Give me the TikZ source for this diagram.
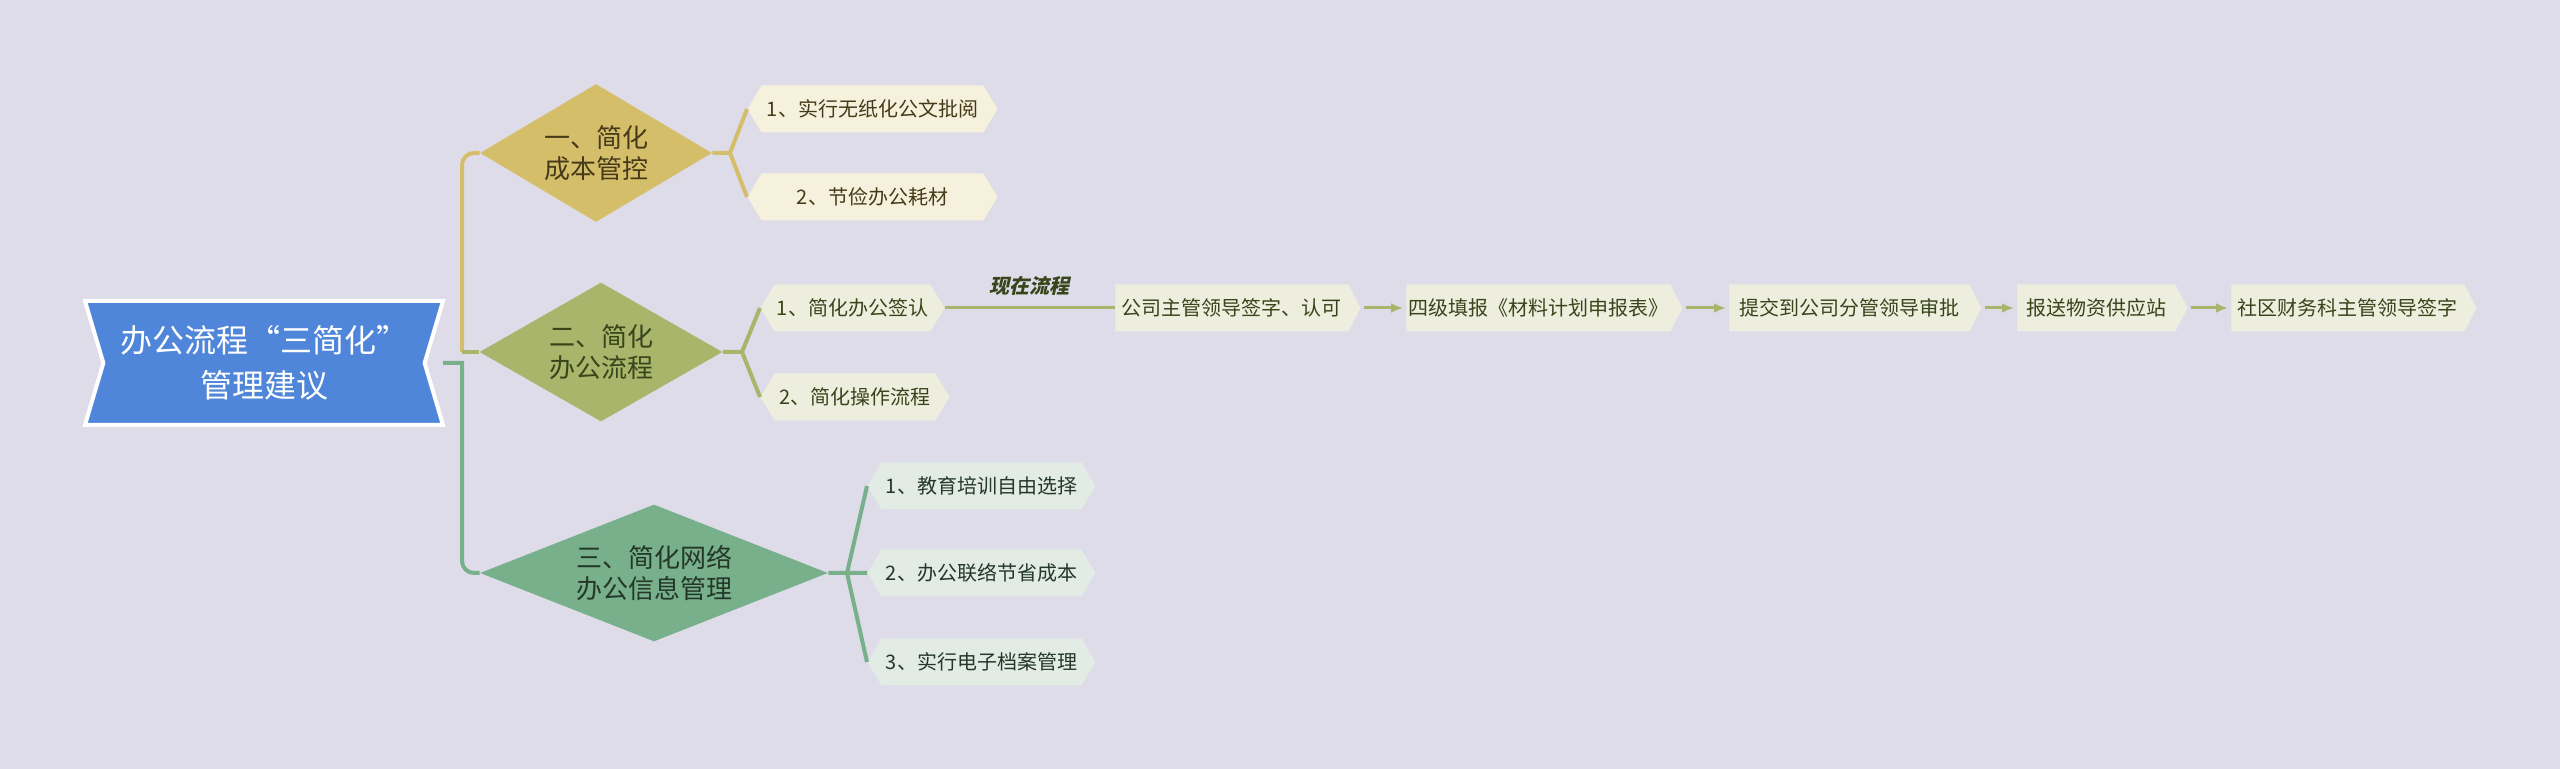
\documentclass[tikz,border=0pt]{standalone}
\usepackage{fontspec}
\newfontfamily\cjk{Noto Sans CJK SC}
\newfontfamily\cjkslant{Noto Sans CJK SC}[FakeSlant=0.22]
\usetikzlibrary{calc,arrows.meta,shapes.geometric,shapes.symbols}

\definecolor{bgcol}{RGB}{223,220,234}
\definecolor{rootcol}{RGB}{79,134,217}
\definecolor{gold}{RGB}{212,190,106}
\definecolor{olive}{RGB}{169,181,107}
\definecolor{sage}{RGB}{119,176,138}
\definecolor{goldleaf}{RGB}{245,241,221}
\definecolor{oliveleaf}{RGB}{238,238,222}
\definecolor{sageleaf}{RGB}{226,235,228}
\definecolor{goldtext}{RGB}{70,58,24}
\definecolor{olivetext}{RGB}{56,68,26}
\definecolor{sagetext}{RGB}{36,56,42}

\tikzset{
  topic/.style={diamond,aspect=2,inner sep=0pt,align=center,
    font=\cjk\fontsize{13}{15.5}\selectfont},
  leaf/.style={signal,signal to=east and west,signal pointer angle=118,
    anchor=west,minimum height=23.5pt,inner sep=0pt,
    font=\cjk\fontsize{10}{12}\selectfont},
  stepbox/.style={signal,signal to=east,signal from=nowhere,signal pointer angle=126,
    anchor=west,minimum height=23.5pt,inner sep=0pt,fill=oliveleaf,text=olivetext,
    font=\cjk\fontsize{10}{12}\selectfont},
  link/.style={line width=2pt},
  flowline/.style={line width=1.5pt,olive,->,shorten <=1.5pt,shorten >=1.5pt}
}

\begin{document}
\begin{tikzpicture}[x=0.5pt,y=-0.5pt,>={Latex[length=6pt,width=5pt]}]
  \fill[bgcol] (0,0) rectangle (2560,769);
  \useasboundingbox (0,0) rectangle (2560,769);

  \node[signal,signal from=west and east,signal to=nowhere,signal pointer angle=147,
    fill=rootcol,draw=white,line width=2pt,minimum width=179pt,minimum height=62pt,
    text=white,align=center,font=\cjk\fontsize{16}{22.5}\selectfont]
    (root) at (264,363) {办公流程“三简化”\\管理建议};

  \node[topic,fill=gold,text=goldtext,minimum width=116pt,minimum height=69pt]
    (d1) at (596,153) {一、简化\\成本管控};
  \node[topic,fill=olive,text=olivetext,minimum width=121.5pt,minimum height=69.5pt]
    (d2) at (601,352) {二、简化\\办公流程};
  \node[topic,fill=sage,text=sagetext,minimum width=174pt,minimum height=68.5pt]
    (d3) at (654,573) {三、简化网络\\办公信息管理};

  \node[leaf,fill=goldleaf,text=goldtext,minimum width=125pt] (g1) at (747,109) {1、实行无纸化公文批阅};
  \node[leaf,fill=goldleaf,text=goldtext,minimum width=125pt] (g2) at (747,197) {2、节俭办公耗材};
  \node[leaf,fill=oliveleaf,text=olivetext,minimum width=92pt] (o1) at (760,308) {1、简化办公签认};
  \node[leaf,fill=oliveleaf,text=olivetext,minimum width=94.5pt] (o2) at (760,397) {2、简化操作流程};
  \node[leaf,fill=sageleaf,text=sagetext,minimum width=114pt] (s1) at (867,486) {1、教育培训自由选择};
  \node[leaf,fill=sageleaf,text=sagetext,minimum width=114pt] (s2) at (867,573) {2、办公联络节省成本};
  \node[leaf,fill=sageleaf,text=sagetext,minimum width=114pt] (s3) at (867,662) {3、实行电子档案管理};

  \node[stepbox,minimum width=122.5pt] (f1) at (1115,308) {公司主管领导签字、认可};
  \node[stepbox,minimum width=138pt] (f2) at (1406,308) {四级填报《材料计划申报表》};
  \node[stepbox,minimum width=126pt] (f3) at (1729,308) {提交到公司分管领导审批};
  \node[stepbox,minimum width=85pt] (f4) at (2017,308) {报送物资供应站};
  \node[stepbox,minimum width=122.5pt] (f5) at (2231,308) {社区财务科主管领导签字};

  \coordinate (rootR) at (443,363);
  \coordinate (fork) at (462,352);
  \coordinate (h1) at (730,153);
  \coordinate (h2) at (742,352);
  \coordinate (h3) at (847,573);

  \draw[link,gold,rounded corners=6pt] (fork) |- (d1.west);
  \draw[link,olive] (fork) -- (d2.west);
  \draw[link,sage] (rootR) -- (rootR -| fork) [rounded corners=6pt] |- (d3.west);

  \draw[link,gold] (d1.east) -- (h1) (g1.west) -- (h1) -- (g2.west);
  \draw[link,olive] (d2.east) -- (h2) (o1.west) -- (h2) -- (o2.west);
  \draw[link,sage] (d3.east) -- (h3) -- (s2.west) (s1.west) -- (h3) -- (s3.west);

  \draw[line width=1.5pt,olive] (o1.east) -- node[above=2pt,text=olivetext,
    font=\cjkslant\bfseries\fontsize{10}{12}\selectfont] {现在流程} (f1.west);
  \draw[flowline] (f1.east) -- (f2.west);
  \draw[flowline] (f2.east) -- (f3.west);
  \draw[flowline] (f3.east) -- (f4.west);
  \draw[flowline] (f4.east) -- (f5.west);
\end{tikzpicture}
\end{document}
